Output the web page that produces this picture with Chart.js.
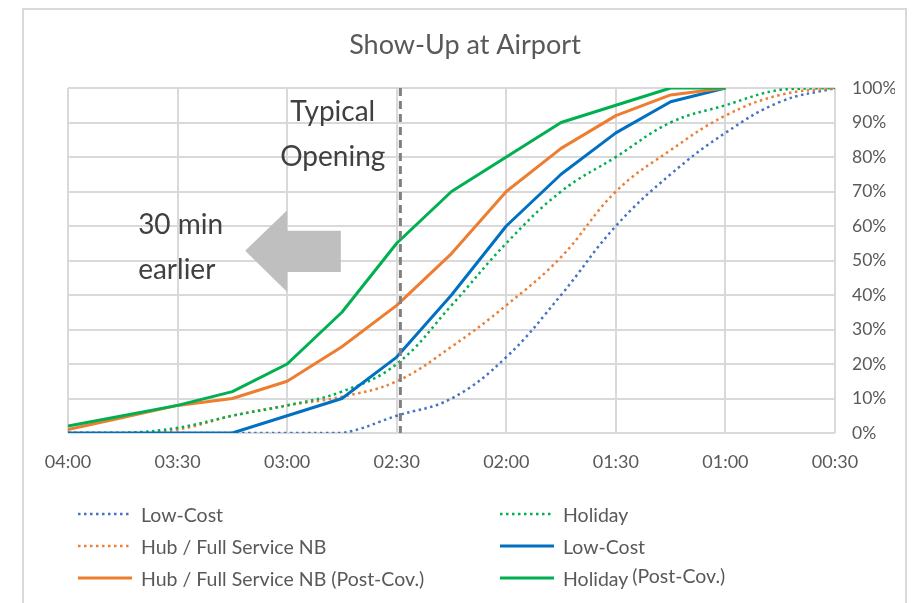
<!DOCTYPE html>
<html>
<head>
<meta charset="utf-8">
<script src="https://cdn.jsdelivr.net/npm/chart.js@4.4.1/dist/chart.umd.min.js"></script>
<style>
  html, body { margin: 0; padding: 0; background: #ffffff; }
  body { width: 920px; height: 603px; position: relative; overflow: hidden; font-family: Lato, "Noto Sans", sans-serif; }
  #frame { position: absolute; left: 22px; top: 8px; width: 885px; height: 620px; border: 2px solid #d9d9d9; box-sizing: border-box; }
  #wrap { position: absolute; left: 0; top: 0; width: 920px; height: 603px; }
  #legend { position: absolute; left: 0; top: 0; width: 920px; height: 603px; pointer-events: none; }
  .li { position: absolute; height: 24px; display: flex; align-items: center; color: #595959; font-size: 19.5px; white-space: nowrap; }
  .li canvas { margin-right: 9px; }
  .sup { position: relative; top: -3px; margin-left: 4px; }
</style>
</head>
<body>
<div id="frame"></div>
<div id="wrap"><canvas id="c" width="920" height="603"></canvas></div>
<div id="legend"></div>
<script>
// ---- data ----
const times = ['04:00','03:45','03:30','03:15','03:00','02:45','02:30','02:15','02:00','01:45','01:30','01:15','01:00','00:45','00:30'];
const lowCost        = [0, 0, 0, 0, 0, 0, 5, 10, 22, 40, 60, 75, 87, 96, 100];
const hubFull        = [0, 0, 1, 5, 8, 10.5, 15, 25, 37, 51, 70, 82, 92, 98, 100];
const holiday        = [0, 0, 1.5, 5, 8, 12, 20, 37, 55, 70, 80, 90, 95, 99.5, 100];
const lowCostPost    = [0, 0, 0, 0, 5, 10, 22, 40, 60, 75, 87, 96, 100, null, null];
const hubFullPost    = [1, 4.5, 8, 10, 15, 25, 37, 52, 70, 82.5, 92, 98, 100, null, null];
const holidayPost    = [2, 5, 8, 12, 20, 35, 55, 70, 80, 90, 95, 100, 100, null, null];
const yTicks = [0,10,20,30,40,50,60,70,80,90,100];
const typicalOpening = '02:29';

function toMin(t) { const p = t.split(':'); return (+p[0]) * 60 + (+p[1]); }
function fmt(m) { const h = Math.floor(m / 60), mm = m % 60; return String(h).padStart(2,'0') + ':' + String(mm).padStart(2,'0'); }
function pts(vals) { return vals.map((v, i) => ({ x: toMin(times[i]), y: v })); }

const BLUE_DOT = '#4472C4', ORANGE = '#ED7D31', GREEN = '#00B050', BLUE = '#0070C0';

const datasets = [
  { label: 'Low-Cost', data: pts(lowCost), borderColor: BLUE_DOT, borderWidth: 2.5, borderDash: [2.5, 3.5], tension: 0.4, order: 6, dotted: true },
  { label: 'Holiday', data: pts(holiday), borderColor: GREEN, borderWidth: 2.5, borderDash: [2.5, 3.5], tension: 0.4, order: 4, dotted: true },
  { label: 'Hub / Full Service NB', data: pts(hubFull), borderColor: ORANGE, borderWidth: 2.5, borderDash: [2.5, 3.5], tension: 0.4, order: 5, dotted: true },
  { label: 'Low-Cost', data: pts(lowCostPost), borderColor: BLUE, borderWidth: 3, tension: 0, order: 3 },
  { label: 'Hub / Full Service NB (Post-Cov.)', data: pts(hubFullPost), borderColor: ORANGE, borderWidth: 3, tension: 0, order: 2 },
  { label: 'Holiday', sup: '(Post-Cov.)', data: pts(holidayPost), borderColor: GREEN, borderWidth: 3, tension: 0, order: 1 }
];
datasets.forEach(d => { d.pointRadius = 0; d.fill = false; d.spanGaps = false; d.borderCapStyle = 'butt'; d.borderJoinStyle = 'round'; });

const annot = {
  id: 'annot',
  afterDatasetsDraw(chart) {
    const ctx = chart.ctx, xs = chart.scales.x, ys = chart.scales.y, ca = chart.chartArea;
    ctx.save();
    // typical opening dashed line
    const xo = xs.getPixelForValue(toMin(typicalOpening));
    ctx.strokeStyle = '#7f7f7f'; ctx.lineWidth = 3; ctx.setLineDash([8, 5]);
    ctx.beginPath(); ctx.moveTo(xo, ca.top); ctx.lineTo(xo, ca.bottom); ctx.stroke();
    ctx.setLineDash([]);
    // arrow (in data units)
    const P = (m, v) => [xs.getPixelForValue(m), ys.getPixelForValue(v)];
    const arrow = [[191.5, 52.8], [180, 64.6], [180, 58.6], [165.3, 58.6], [165.3, 46.7], [180, 46.7], [180, 40.9]];
    ctx.fillStyle = '#bfbfbf';
    ctx.beginPath();
    arrow.forEach((a, i) => { const p = P(a[0], a[1]); if (i === 0) ctx.moveTo(p[0], p[1]); else ctx.lineTo(p[0], p[1]); });
    ctx.closePath(); ctx.fill();
    // texts
    ctx.fillStyle = '#404040'; ctx.font = '28px Lato'; ctx.textBaseline = 'middle';
    ctx.textAlign = 'center';
    let p = P(167.5, 93); ctx.fillText('Typical', p[0], p[1]);
    p = P(167.5, 80); ctx.fillText('Opening', p[0], p[1]);
    ctx.textAlign = 'left';
    p = P(220.8, 60.3); ctx.fillText('30 min', p[0], p[1]);
    p = P(220.8, 47.2); ctx.fillText('earlier', p[0], p[1]);
    // title
    ctx.fillStyle = '#595959'; ctx.font = '27px Lato'; ctx.textAlign = 'center';
    ctx.fillText('Show-Up at Airport', 465, 45);
    ctx.restore();
  }
};

const chart = new Chart(document.getElementById('c'), {
  type: 'line',
  data: { datasets },
  options: {
    responsive: false, animation: false, devicePixelRatio: 1,
    layout: { padding: { left: 68, top: 88, right: 25, bottom: 130 } },
    plugins: { legend: { display: false }, tooltip: { enabled: false }, title: { display: false } },
    scales: {
      x: {
        type: 'linear', reverse: true, min: 30, max: 240,
        afterBuildTicks: s => { s.ticks = times.filter((t, i) => i % 2 === 0).map(t => ({ value: toMin(t) })); },
        afterFit: s => { s.height = 40; },
        grid: { color: '#d9d9d9', lineWidth: 2, drawTicks: false },
        border: { display: false },
        ticks: { color: '#595959', font: { family: 'Lato', size: 18 }, padding: 18, maxRotation: 0, autoSkip: false, callback: v => fmt(v) }
      },
      y: {
        position: 'right', min: 0, max: 100,
        afterBuildTicks: s => { s.ticks = yTicks.map(v => ({ value: v })); },
        afterFit: s => { s.width = 60; },
        grid: { color: '#d9d9d9', lineWidth: 2, drawTicks: false },
        border: { display: false },
        ticks: { color: '#595959', font: { family: 'Lato', size: 17.5 }, padding: 17, callback: v => v + '%' }
      }
    }
  },
  plugins: [annot]
});

// HTML legend generated from the chart's datasets
const legendOrder = [0, 1, 2, 3, 4, 5];
const lg = document.getElementById('legend');
legendOrder.forEach((di, k) => {
  const ds = chart.data.datasets[di];
  const col = k % 2, row = Math.floor(k / 2);
  const el = document.createElement('div');
  el.className = 'li';
  el.style.left = (col === 0 ? 78 : 500) + 'px';
  el.style.top = (502 + row * 32) + 'px';
  const sw = document.createElement('canvas'); sw.width = 54; sw.height = 8;
  const c = sw.getContext('2d');
  c.strokeStyle = ds.borderColor; c.lineWidth = ds.borderWidth;
  if (ds.dotted) c.setLineDash([2.5, 3.5]);
  c.beginPath(); c.moveTo(0, 4); c.lineTo(54, 4); c.stroke();
  el.appendChild(sw);
  const t = document.createElement('span'); t.textContent = ds.label; el.appendChild(t);
  if (ds.sup) { const s = document.createElement('span'); s.className = 'sup'; s.textContent = ds.sup; el.appendChild(s); }
  lg.appendChild(el);
});
</script>
</body>
</html>
